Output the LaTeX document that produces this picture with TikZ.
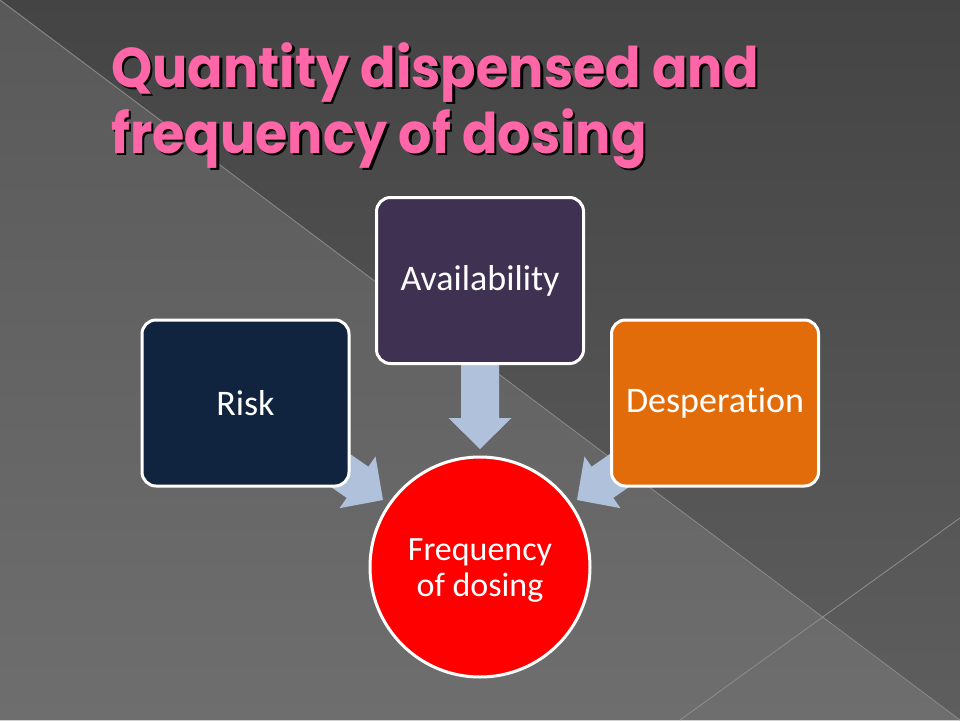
\documentclass[tikz,border=0pt]{standalone}
\usepackage{fontspec}
\usepackage{graphicx}
\newfontfamily\bodyfont{Carlito}[Ligatures={NoCommon}]
\newfontfamily\titlefont{Poppins}
\usetikzlibrary{calc}
\definecolor{bgtopA}{HTML}{444444}
\definecolor{bgtopB}{HTML}{5E5E5E}
\definecolor{bglowA}{HTML}{595959}
\definecolor{bglowB}{HTML}{6E6E6E}
\definecolor{seamcol}{HTML}{8E8E8E}
\definecolor{titlepink}{HTML}{FF66A8}
\definecolor{navybox}{HTML}{10243F}
\definecolor{purplebox}{HTML}{3F3151}
\definecolor{orangebox}{HTML}{E36C0A}
\definecolor{arrowblue}{HTML}{B0C1DC}
\newcommand{\shadowtext}[1]{\scalebox{0.935}[1]{\makebox[0pt][l]{\hspace{2.5pt}\raisebox{-2.5pt}{\color{black}#1}}#1}}
\tikzset{
  boxstyle/.style={draw=white, line width=3pt, rounded corners=14pt,
    minimum width=207pt, minimum height=166pt, inner sep=0pt,
    text=white, font=\bodyfont\fontsize{36}{43}\selectfont},
  circstyle/.style={circle, draw=white, line width=3pt, fill=red,
    minimum size=220pt, inner sep=0pt},
  circtext/.style={inner sep=0pt, text=white, align=center,
    font=\bodyfont\fontsize{34}{36}\selectfont},
  titlestyle/.style={anchor=base west, inner sep=0pt, text=titlepink,
    font=\titlefont\bfseries\fontsize{56}{66}\selectfont},
  fatarrow/.pic={\fill[arrowblue] (0,0) -- (-31,31.5) -- (-31,19) -- (-95,19)
      -- (-95,-19) -- (-31,-19) -- (-31,-31.5) -- cycle;}
}
\begin{document}
\begin{tikzpicture}[x=1pt,y=-1pt]
\useasboundingbox (0,0) rectangle (960,720);
% background
\fill[top color=bgtopA, bottom color=bgtopB] (0,0) -- (960,0) -- (960,720) -- cycle;
\fill[top color=bglowA, bottom color=bglowB] (0,0) -- (0,720) -- (960,720) -- cycle;
\coordinate (s1) at (0,0);
\coordinate (s2) at (960,720);
\coordinate (s3) at (960,518);
\coordinate (s4) at (680,720);
\draw[seamcol, line width=0.8pt] (s1) -- (s2);
\draw[seamcol, line width=0.8pt] (s3) -- (s4);
% title
\node[titlestyle] (t1) at (111,87) {\shadowtext{Quantity dispensed and}};
\node[titlestyle] (t2) at (111,153) {\shadowtext{frequency of dosing}};
% arrows
\coordinate (tipA) at (480,449);
\coordinate (tipL) at (383,500);
\coordinate (tipR) at (577,500);
\pic[rotate=-90] at (tipA) {fatarrow};
\pic[rotate=-34.8] at (tipL) {fatarrow};
\pic[rotate=-145.2] at (tipR) {fatarrow};
% boxes
\node[boxstyle, fill=navybox] (risk) at (245.5,403) {Risk};
\node[boxstyle, fill=purplebox] (avail) at (480,280.5) {Availability};
\node[boxstyle, fill=orangebox] (desp) at (715,403) {Desperation};
\node[circstyle] (freq) at (480,567) {};
\node[circtext] (freqtext) at ($(freq.center)+(0,4)$) {Frequency\\of dosing};
\end{tikzpicture}
\end{document}
